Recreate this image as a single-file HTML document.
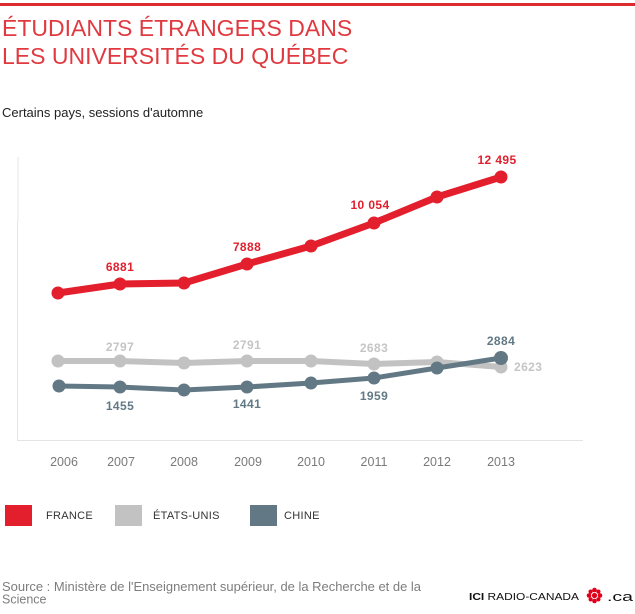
<!DOCTYPE html>
<html>
<head>
<meta charset="utf-8">
<style>
html,body{margin:0;padding:0;background:#fff;}
body{width:635px;height:614px;overflow:hidden;}
svg{display:block;}
text{font-family:"Liberation Sans",Arial,sans-serif;}
</style>
</head>
<body>
<svg width="635" height="614" viewBox="0 0 635 614" xmlns="http://www.w3.org/2000/svg">
  <rect x="0" y="0" width="635" height="614" fill="#fff"/>
  <!-- top red bar -->
  <rect x="0" y="3" width="635" height="3" fill="#dc2a2f"/>
  <!-- title -->
  <text x="2" y="36" font-size="23" fill="#e03a40">ÉTUDIANTS ÉTRANGERS DANS</text>
  <text x="2" y="64" font-size="23" fill="#e03a40">LES UNIVERSITÉS DU QUÉBEC</text>
  <text x="2" y="117" font-size="13" fill="#222">Certains pays, sessions d'automne</text>

  <!-- axes -->
  <line x1="18" y1="157" x2="18" y2="222" stroke="#e4e4e4" stroke-width="1"/>
  <line x1="17.5" y1="222" x2="17.5" y2="440" stroke="#e4e4e4" stroke-width="1"/>
  <line x1="17" y1="440.5" x2="583" y2="440.5" stroke="#e4e4e4" stroke-width="1"/>

  <!-- x labels -->
  <g font-size="12.5" fill="#7a7a7a" text-anchor="middle">
    <text x="64" y="466">2006</text>
    <text x="121" y="466">2007</text>
    <text x="184" y="466">2008</text>
    <text x="248" y="466">2009</text>
    <text x="311" y="466">2010</text>
    <text x="374" y="466">2011</text>
    <text x="437" y="466">2012</text>
    <text x="501" y="466">2013</text>
  </g>

  <!-- Etats-Unis -->
  <polyline points="58,361 120,361 184,363 247,361 311,361 374,364 437,362 501,367" fill="none" stroke="#c3c2c2" stroke-width="6" stroke-linejoin="round"/>
  <g fill="#c3c2c2">
    <circle cx="58" cy="361" r="6.5"/><circle cx="120" cy="361" r="6.5"/><circle cx="184" cy="363" r="6.5"/><circle cx="247" cy="361" r="6.5"/>
    <circle cx="311" cy="361" r="6.5"/><circle cx="374" cy="364" r="6.5"/><circle cx="437" cy="362" r="6.5"/><circle cx="501" cy="367" r="6.5"/>
  </g>

  <!-- Chine -->
  <polyline points="59,386 120,387 184,390 247,387 311,383 374,378 437,368 501,358" fill="none" stroke="#627985" stroke-width="5" stroke-linejoin="round"/>
  <g fill="#627985">
    <circle cx="59" cy="386" r="6.5"/><circle cx="120" cy="387" r="6.5"/><circle cx="184" cy="390" r="6.5"/><circle cx="247" cy="387" r="6.5"/>
    <circle cx="311" cy="383" r="6.5"/><circle cx="374" cy="378" r="6.5"/><circle cx="437" cy="368" r="6.5"/><circle cx="501" cy="358" r="7"/>
  </g>

  <!-- France -->
  <polyline points="58,293 120,284 184,283 247,264 311,246 374,223 437,197 501,177" fill="none" stroke="#e41f2d" stroke-width="7" stroke-linejoin="round"/>
  <g fill="#e41f2d">
    <circle cx="58" cy="293" r="6.5"/><circle cx="120" cy="284" r="6.5"/><circle cx="184" cy="283" r="6.5"/><circle cx="247" cy="264" r="6.5"/>
    <circle cx="311" cy="246" r="6.5"/><circle cx="374" cy="223" r="6.5"/><circle cx="437" cy="197" r="6.5"/><circle cx="501" cy="177" r="6.5"/>
  </g>

  <!-- data labels -->
  <g font-size="12" font-weight="bold" text-anchor="middle" letter-spacing="0.4">
    <text x="120" y="271" fill="#e0202e">6881</text>
    <text x="247" y="251" fill="#e0202e">7888</text>
    <text x="370" y="209" fill="#e0202e">10 054</text>
    <text x="497" y="164" fill="#e0202e">12 495</text>

    <text x="120" y="351" fill="#c6c5c5">2797</text>
    <text x="247" y="349" fill="#c6c5c5">2791</text>
    <text x="374" y="352" fill="#c6c5c5">2683</text>

    <text x="120" y="410" fill="#627985">1455</text>
    <text x="247" y="408" fill="#627985">1441</text>
    <text x="374" y="400" fill="#627985">1959</text>
    <text x="501" y="345" fill="#627985">2884</text>
  </g>
  <text x="514" y="371" font-size="12" font-weight="bold" fill="#c6c5c5" letter-spacing="0.4">2623</text>

  <!-- legend -->
  <rect x="5" y="505" width="27" height="21" fill="#e41f2d"/>
  <rect x="115" y="505" width="27" height="21" fill="#c3c2c2"/>
  <rect x="250" y="505" width="27" height="21" fill="#627985"/>
  <g font-size="11" fill="#333" letter-spacing="0.3">
    <text x="46" y="519">FRANCE</text>
    <text x="153" y="519">ÉTATS-UNIS</text>
    <text x="284" y="519">CHINE</text>
  </g>

  <!-- source -->
  <text x="2" y="591" font-size="12.5" fill="#7d7d7d" textLength="419" lengthAdjust="spacingAndGlyphs">Source : Ministère de l'Enseignement supérieur, de la Recherche et de la</text>
  <text x="2" y="603.5" font-size="12.5" fill="#7d7d7d">Science</text>

  <!-- logo -->
  <text x="469" y="600" font-size="10" fill="#111" textLength="110" lengthAdjust="spacingAndGlyphs"><tspan font-weight="bold">ICI</tspan> RADIO-CANADA</text>
  <g fill="#e1001a">
    <circle cx="594.5" cy="595.5" r="2.6"/>
    <circle cx="594.5" cy="590" r="2.3"/>
    <circle cx="594.5" cy="601" r="2.3"/>
    <circle cx="589" cy="595.5" r="2.3"/>
    <circle cx="600" cy="595.5" r="2.3"/>
    <circle cx="590.6" cy="591.6" r="2.1"/>
    <circle cx="598.4" cy="591.6" r="2.1"/>
    <circle cx="590.6" cy="599.4" r="2.1"/>
    <circle cx="598.4" cy="599.4" r="2.1"/>
  </g>
  <text x="607" y="601" font-size="13" fill="#111" textLength="26" lengthAdjust="spacingAndGlyphs">.ca</text>
</svg>
</body>
</html>
